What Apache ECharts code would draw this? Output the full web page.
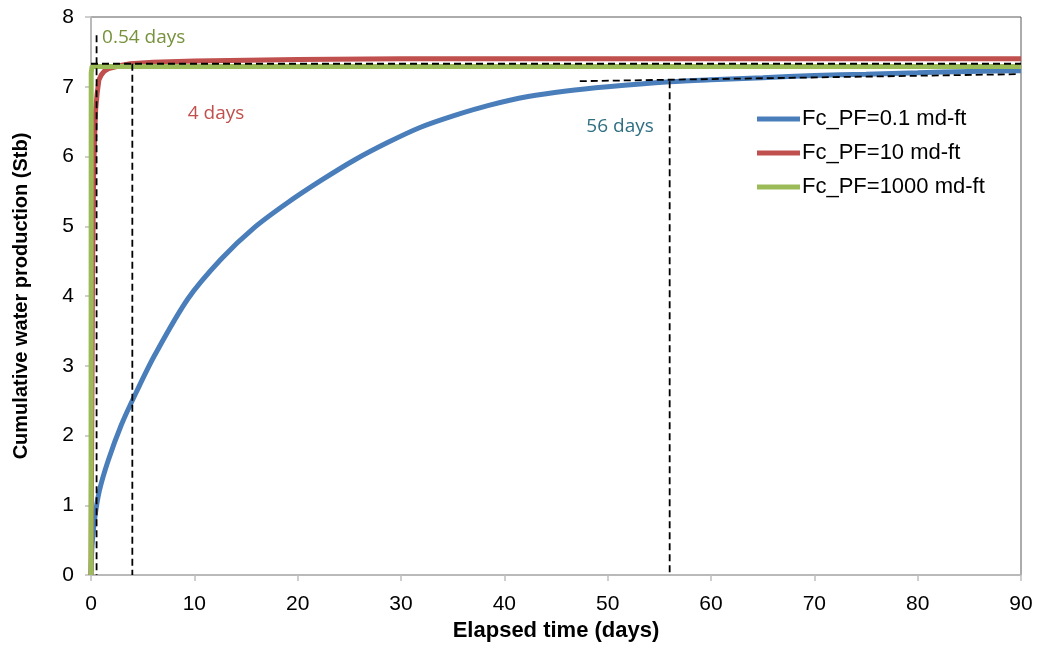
<!DOCTYPE html>
<html>
<head>
<meta charset="utf-8">
<style>
  html, body { margin: 0; padding: 0; background: #fff; }
  #chart { width: 1041px; height: 647px; }
</style>
<script src="https://cdn.jsdelivr.net/npm/echarts@6/dist/echarts.min.js"></script>
</head>
<body>
<div id="chart"></div>
<script>
// Cumulative water production vs elapsed time for three fracture conductivities
const seriesNames = ['Fc_PF=0.1 md-ft', 'Fc_PF=10 md-ft', 'Fc_PF=1000 md-ft'];

const timeLow = [0, 0.1, 0.36, 0.8, 1.64, 2.93, 4.38, 6.16, 9.38, 12.6, 15.8, 19.05, 22.3, 25.5, 28.7, 31.9, 35.2, 38.4, 42.3, 46, 50, 56, 60, 65, 70, 75, 80, 85, 90];
const cumLow  = [0, 0.42, 0.81, 1.2, 1.63, 2.15, 2.62, 3.15, 3.96, 4.53, 4.98, 5.34, 5.66, 5.95, 6.2, 6.42, 6.59, 6.73, 6.86, 6.94, 7.0, 7.07, 7.1, 7.13, 7.16, 7.18, 7.2, 7.22, 7.23];

const timeMid = [0, 0.05, 0.1, 0.15, 0.25, 0.35, 0.45, 0.6, 0.77, 1.0, 1.26, 1.7, 2.2, 3, 3.8, 6, 10, 20, 30, 50, 70, 90];
const cumMid  = [0, 1.5, 2.8, 4.3, 5.7, 6.3, 6.67, 6.91, 7.1, 7.17, 7.22, 7.26, 7.28, 7.31, 7.33, 7.35, 7.37, 7.39, 7.4, 7.4, 7.4, 7.4];

const timeHigh = [0, 0.02, 0.1, 90];
const cumHigh  = [0, 7.2, 7.29, 7.29];

// Dashed guide lines: [time, value] pairs
const guideHighV = [[0.54, 7.74], [0.54, 0]];
const guidePlateau = [[0, 7.33], [90, 7.33]];
const guideMidV = [[4, 7.33], [4, 0]];
const guideLowV = [[56, 7.08], [56, 0]];
const guideLowTrend = [[47.3, 7.08], [89.5, 7.18]];

// Annotations
const annotText  = ['0.54 days', '4 days', '56 days'];
const annotTime  = [5.1, 12.1, 51.2];
const annotValue = [7.7, 6.61, 6.43];
const annotColor = ['#76923C', '#C0504D', '#2F6F82'];

const xTicks = [0, 10, 20, 30, 40, 50, 60, 70, 80, 90];
const yTicks = [0, 1, 2, 3, 4, 5, 6, 7, 8];

const colors = ['#4A7EBB', '#C0504D', '#9BBB59'];

const zip = (a, b) => a.map((v, i) => [v, b[i]]);

const dashStyle = { color: '#000', width: 1.8, type: [7, 4] };
function guide(data) {
  return {
    type: 'line', data: data, symbol: 'none', silent: true,
    lineStyle: dashStyle, z: 5, animation: false
  };
}

const chart = echarts.init(document.getElementById('chart'));
chart.setOption({
  animation: false,
  backgroundColor: '#fff',
  color: colors,
  grid: {
    left: 91, right: 20, top: 17, bottom: 70,
    show: true, borderColor: '#595959', borderWidth: 1
  },
  legend: {
    data: seriesNames,
    orient: 'vertical',
    left: 752, top: 103,
    itemWidth: 43, itemHeight: 5, itemGap: 12,
    icon: 'rect',
    textStyle: { fontFamily: 'Liberation Sans, Arial', fontSize: 22, color: '#000', padding: [0, 0, 0, -3] }
  },
  xAxis: {
    type: 'value', min: 0, max: 90, interval: 10,
    name: 'Elapsed time (days)', nameLocation: 'middle', nameGap: 45,
    nameTextStyle: { fontFamily: 'Liberation Sans, Arial', fontSize: 22, fontWeight: 'bold', color: '#000' },
    axisLine: { show: true, lineStyle: { color: '#BFBFBF', width: 1.5 } },
    axisTick: { show: true, length: 6, lineStyle: { color: '#BFBFBF', width: 1.5 } },
    axisLabel: {
      margin: 19, fontFamily: 'Liberation Sans, Arial', fontSize: 21, color: '#000',
      formatter: v => xTicks.includes(v) ? String(v) : ''
    },
    splitLine: { show: false }
  },
  yAxis: {
    type: 'value', min: 0, max: 8, interval: 1,
    name: 'Cumulative water production (Stb)', nameLocation: 'middle', nameGap: 60,
    nameTextStyle: { fontFamily: 'Liberation Sans, Arial', fontSize: 20, fontWeight: 'bold', color: '#000' },
    axisLine: { show: true, lineStyle: { color: '#BFBFBF', width: 1.5 } },
    axisTick: { show: true, length: 6, lineStyle: { color: '#BFBFBF', width: 1.5 } },
    axisLabel: {
      margin: 17, fontFamily: 'Liberation Sans, Arial', fontSize: 21, color: '#000',
      formatter: v => yTicks.includes(v) ? String(v) : ''
    },
    splitLine: { show: false }
  },
  series: [
    {
      name: seriesNames[0], type: 'line', data: zip(timeLow, cumLow),
      symbol: 'none', smooth: 0.3,
      lineStyle: { width: 5, color: colors[0] }, z: 2
    },
    {
      name: seriesNames[1], type: 'line', data: zip(timeMid, cumMid),
      symbol: 'none', smooth: false,
      lineStyle: { width: 5, color: colors[1], join: 'round' }, z: 3
    },
    {
      name: seriesNames[2], type: 'line', data: zip(timeHigh, cumHigh),
      symbol: 'none',
      lineStyle: { width: 5, color: colors[2] }, z: 4
    },
    guide(guideHighV),
    guide(guidePlateau),
    guide(guideMidV),
    guide(guideLowV),
    guide(guideLowTrend),
    {
      type: 'scatter', silent: true, symbolSize: 0, z: 6,
      itemStyle: { opacity: 1 },
      data: annotText.map((t, i) => ({
        value: [annotTime[i], annotValue[i]],
        label: {
          show: true, position: 'inside', formatter: t,
          fontFamily: 'Open Sans', fontSize: 19, color: annotColor[i],
          textBorderWidth: 0, opacity: 1
        }
      }))
    }
  ]
});
</script>
</body>
</html>
